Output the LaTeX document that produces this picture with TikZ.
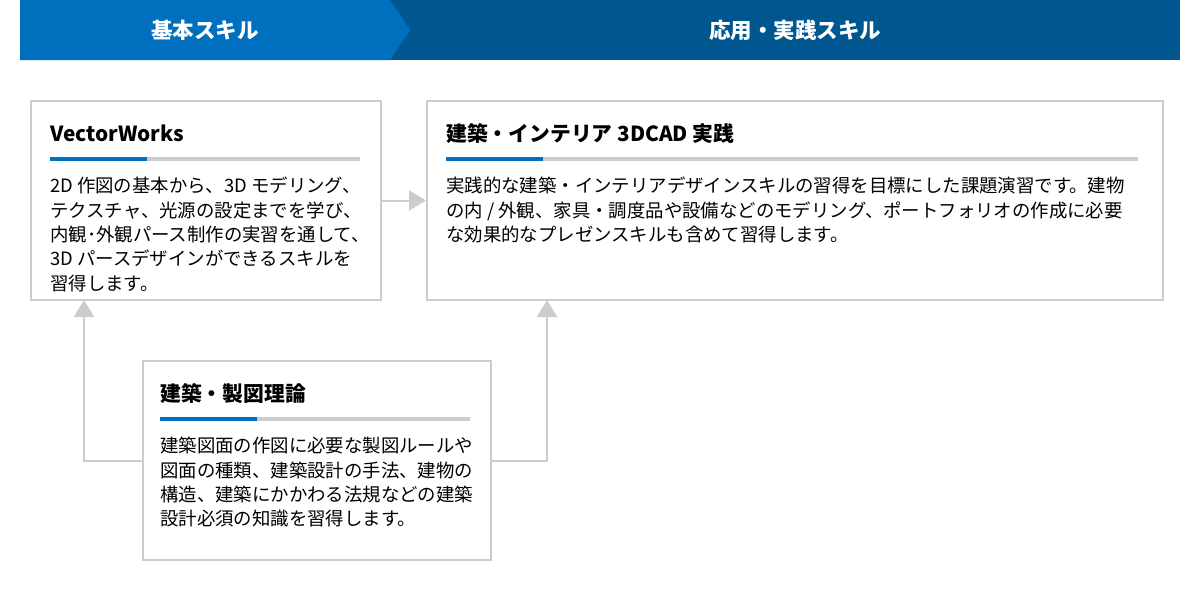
\documentclass[tikz,border=0pt]{standalone}
\usepackage{fontspec}
\setmainfont{Noto Sans CJK JP}
\usetikzlibrary{arrows.meta, calc, positioning}
\definecolor{skillBlue}{HTML}{0070BE}
\definecolor{skillNavy}{HTML}{00568F}
\definecolor{lineGray}{HTML}{CCCCCC}
\tikzset{
  card/.style={draw=lineGray, line width=2pt, anchor=north west, inner sep=0pt},
  cardtitle/.style={anchor=base west, font=\fontsize{20.8}{22}\selectfont\bfseries, inner sep=0pt},
  cardbody/.style={anchor=north west, align=left, inner sep=0pt, font=\fontsize{18.4}{24.3}\selectfont},
  flow/.style={draw=lineGray, line width=2pt, -{Triangle[width=20pt,length=17pt]}},
}
\newcommand{\cardbar}[3]{%
  \draw[lineGray, line width=4pt] (#1,#3) -- (#2,#3);
  \draw[skillBlue, line width=4pt] (#1,#3) -- ++(97,0);
}

\begin{document}
\begin{tikzpicture}[x=1pt, y=-1pt]
	\useasboundingbox (0,0) rectangle (1200,600);
	\fill[white] (0,0) rectangle (1200,600);
	% header band
	\fill[skillNavy] (390,0) rectangle (1180,60);
	\fill[skillBlue] (20,0) -- (390,0) -- (410,30) -- (390,60) -- (20,60) -- cycle;
	\node[text=white, font=\fontsize{21.5}{22}\selectfont\bfseries] (basic) at (205,30) {基本スキル};
	\node[text=white, font=\fontsize{21.5}{22}\selectfont\bfseries] (applied) at (795,30) {応用・実践スキル};

	% cards
	\node[card, minimum width=350pt, minimum height=199pt] (vw) at (30,100) {};
	\node[card, minimum width=736pt, minimum height=199pt] (cad) at (426,100) {};
	\node[card, minimum width=348pt, minimum height=199pt] (theory) at (142,360) {};

	\node[cardtitle] (vwT) at (50,141) {VectorWorks};
	\cardbar{50}{360}{159}
	\node[cardbody] (vwB) at (50,177) {2D 作図の基本から、3D モデリング、\\テクスチャ、光源の設定までを学び、\\内観･外観パース制作の実習を通して、\\3D パースデザインができるスキルを\\習得します。};

	\node[cardtitle] (cadT) at (446,141) {建築・インテリア 3DCAD 実践};
	\cardbar{446}{1138}{159}
	\node[cardbody] (cadB) at (446,177) {実践的な建築・インテリアデザインスキルの習得を目標にした課題演習です。建物\\の内 / 外観、家具・調度品や設備などのモデリング、ポートフォリオの作成に必要\\な効果的なプレゼンスキルも含めて習得します。};

	\node[cardtitle] (theoryT) at (160,401) {建築・製図理論};
	\cardbar{160}{470}{419}
	\node[cardbody] (theoryB) at (160,437) {建築図面の作図に必要な製図ルールや\\図面の種類、建築設計の手法、建物の\\構造、建築にかかわる法規などの建築\\設計必須の知識を習得します。};

	% connectors
	\coordinate (vwIn) at (84,300);
	\coordinate (cadIn) at (547,300);
	\draw[flow] (vw.east) -- (cad.west);
	\draw[flow] (theory.west) -| (vwIn);
	\draw[flow] (theory.east) -| (cadIn);
\end{tikzpicture}
\end{document}
